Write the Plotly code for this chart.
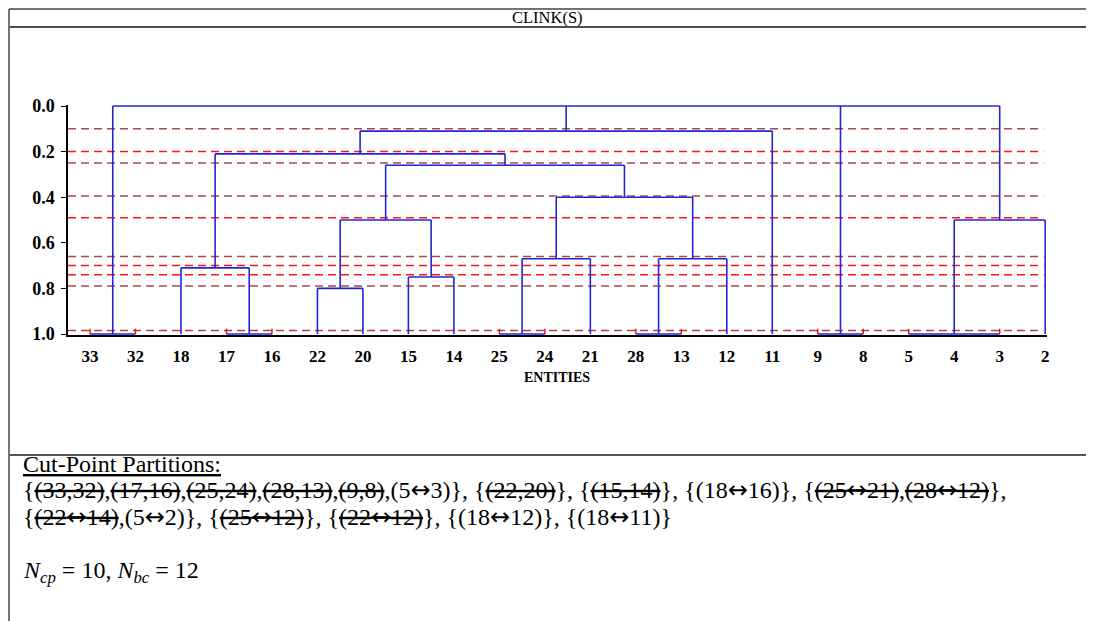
import plotly.graph_objects as go

OFF = 8                      # page body margin offset of the plot div
W, H = 1094 - OFF, 621 - OFF
ML, MR, MT, MB = 60, 47, 97, 286

# ---------------- data ----------------
leaves = ["33", "32", "18", "17", "16", "22", "20", "15", "14", "25", "24",
          "21", "28", "13", "12", "11", "9", "8", "5", "4", "3", "2"]

# merges (children refer to leaf labels or earlier merges "M<k>", 1-based)
merge_children = [
    ["33", "32"], ["17", "16"], ["18", "M2"], ["22", "20"], ["15", "14"],
    ["M4", "M5"], ["25", "24"], ["M7", "21"], ["28", "13"], ["M9", "12"],
    ["M8", "M10"], ["M6", "M11"], ["M3", "M12"], ["M13", "11"], ["9", "8"],
    ["5", "4", "3"], ["M16", "2"], ["M1", "M14", "M15", "M17"],
]
merge_heights = [1.0, 1.0, 0.71, 0.80, 0.75, 0.50, 1.0, 0.67, 1.0, 0.67,
                 0.40, 0.26, 0.21, 0.11, 1.0, 1.0, 0.50, 0.0]

cut_levels = [0.10, 0.20, 0.25, 0.395, 0.49, 0.66, 0.70, 0.74, 0.79, 0.985]
cut_kind = ["dim", "bright", "dim", "dim", "bright", "dim", "bright", "bright", "dim", "dim"]

y_ticks = [0.0, 0.2, 0.4, 0.6, 0.8, 1.0]
y_ticktext = ["0.0", "0.2", "0.4", "0.6", "0.8", "1.0"]

partition_groups = [
    [("33,32", True), ("17,16", True), ("25,24", True), ("28,13", True), ("9,8", True), ("5↔3", False)],
    [("22,20", True)],
    [("15,14", True)],
    [("18↔16", False)],
    [("25↔21", True), ("28↔12", True)],
    [("22↔14", True), ("5↔2", False)],
    [("25↔12", True)],
    [("22↔12", True)],
    [("18↔12", False)],
    [("18↔11", False)],
]
groups_on_first_line = 5
n_cp = 10
n_bc = 12

# ---------------- geometry from data ----------------
pos = {lab: (i, 1.0) for i, lab in enumerate(leaves)}
bx, by, rx, ry = [], [], [], []
for k, (ch, h) in enumerate(zip(merge_children, merge_heights), start=1):
    xs = [pos[c][0] for c in ch]
    lo, hi = min(xs), max(xs)
    bx += [lo, hi, None]
    by += [h, h, None]
    for c in ch:
        cx, ch_h = pos[c]
        if ch_h != h:
            bx += [cx, cx, None]
            by += [ch_h, h, None]
    if h == 1.0:
        for e in (lo, hi):
            rx += [e, e, None]
            ry += [1.0, 0.977, None]
    if len(ch) == 2:
        pos["M%d" % k] = ((lo + hi) / 2.0, h)
    else:
        pos["M%d" % k] = (sorted(xs)[len(xs) // 2], h)

XR = [-0.484, 21.04]

fig = go.Figure()
for lvl, kind in zip(cut_levels, cut_kind):
    fig.add_trace(go.Scatter(
        x=[XR[0], 20.96], y=[lvl, lvl], mode="lines",
        line=dict(color="#ff1414" if kind == "bright" else "#a84a4a", width=1.5, dash="8px,5px"),
        hoverinfo="skip", showlegend=False))
fig.add_trace(go.Scatter(x=bx, y=by, mode="lines",
                         line=dict(color="#2424d4", width=1.6),
                         hoverinfo="skip", showlegend=False))
fig.add_trace(go.Scatter(x=rx, y=ry, mode="lines",
                         line=dict(color="#ff0000", width=1.4),
                         hoverinfo="skip", showlegend=False))

SERIF = "Liberation Serif"


def px2x(px):
    return (px - OFF - ML) / (W - ML - MR)


def py2y(py):
    return (H - MB - (py - OFF)) / (H - MT - MB)


# ---------------- text ----------------
ARROW = "<span style=\"font-family:'DejaVu Sans'\">↔</span>"


def pair_html(txt, struck):
    s = "(" + txt.replace("↔", ARROW) + ")"
    return "<s>" + s + "</s>" if struck else s


group_strs = ["{" + ",".join(pair_html(t, s) for t, s in g) + "}" for g in partition_groups]
line1 = ", ".join(group_strs[:groups_on_first_line]) + ","
line2 = ", ".join(group_strs[groups_on_first_line:])

TXT = 24
annotations = [
    dict(text="CLINK(S)", x=px2x(547), y=py2y(17), xanchor="center", yanchor="middle",
         font=dict(family=SERIF, size=16.5, color="black")),
    dict(text="<b>ENTITIES</b>", x=px2x(557), y=py2y(377), xanchor="center", yanchor="middle",
         font=dict(family=SERIF, size=14, color="black")),
    dict(text="<u>Cut-Point Partitions:</u>", x=px2x(21), y=py2y(464), xanchor="left", yanchor="middle",
         font=dict(family=SERIF, size=TXT, color="black")),
    dict(text=line1, x=px2x(21), y=py2y(490), xanchor="left", yanchor="middle",
         font=dict(family=SERIF, size=TXT, color="black")),
    dict(text=line2, x=px2x(21), y=py2y(517), xanchor="left", yanchor="middle",
         font=dict(family=SERIF, size=TXT, color="black")),
    dict(text="<i>N</i><sub><i>cp</i></sub> = %d, <i>N</i><sub><i>bc</i></sub> = %d" % (n_cp, n_bc),
         x=px2x(21), y=py2y(572), xanchor="left", yanchor="middle",
         font=dict(family=SERIF, size=TXT, color="black")),
]
for a in annotations:
    a.update(xref="paper", yref="paper", showarrow=False)

shapes = [
    dict(type="line", x0=px2x(9), x1=px2x(1100), y0=py2y(9), y1=py2y(9),
         line=dict(color="#444444", width=1.5)),
    dict(type="line", x0=px2x(9), x1=px2x(1100), y0=py2y(27), y1=py2y(27),
         line=dict(color="#111111", width=1.5)),
    dict(type="line", x0=px2x(9), x1=px2x(1100), y0=py2y(455), y1=py2y(455),
         line=dict(color="#555555", width=1.8)),
    dict(type="line", x0=px2x(9), x1=px2x(9), y0=py2y(9), y1=py2y(630),
         line=dict(color="#666666", width=1.8)),
]
for s in shapes:
    s.update(xref="paper", yref="paper", layer="above")

fig.update_layout(
    width=W, height=H, autosize=False,
    margin=dict(l=ML, r=MR, t=MT, b=MB, pad=0),
    paper_bgcolor="white", plot_bgcolor="white",
    showlegend=False,
    annotations=annotations, shapes=shapes,
    xaxis=dict(range=XR, tickmode="array", tickvals=list(range(len(leaves))), ticktext=leaves,
               showline=True, linecolor="black", linewidth=1.5, ticks="",
               ticklabelstandoff=5,
               showgrid=False, zeroline=False,
               tickfont=dict(family=SERIF, size=17, color="black", weight="bold")),
    yaxis=dict(range=[1.0044, -0.0044], tickmode="array", tickvals=y_ticks, ticktext=y_ticktext,
               showline=True, linecolor="black", linewidth=1.5, ticks="outside", ticklen=5,
               tickcolor="black", tickwidth=1.2, ticklabelstandoff=3,
               showgrid=False, zeroline=False,
               tickfont=dict(family=SERIF, size=18, color="black", weight="bold")),
)

fig.write_html("out.html")
